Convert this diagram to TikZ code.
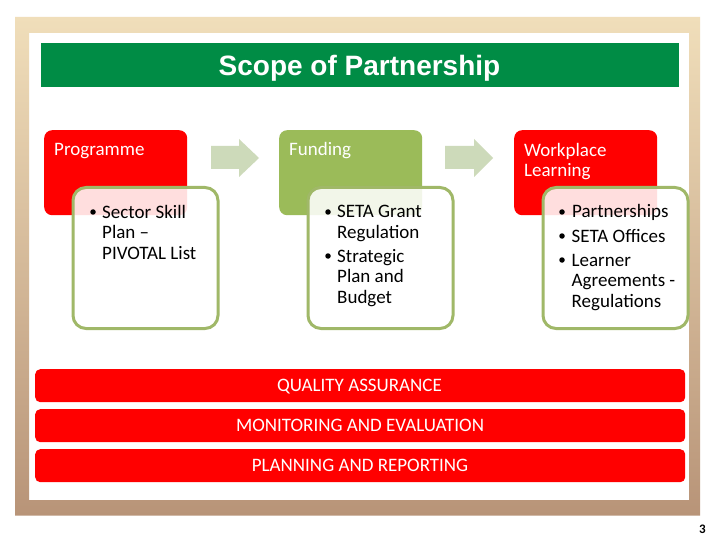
\documentclass[tikz,border=0pt]{standalone}
\usepackage{fontspec}
\setmainfont{Carlito}
\newfontfamily\titlefont{Liberation Sans}
\definecolor{frametop}{RGB}{240,222,186}
\definecolor{framebot}{RGB}{184,148,120}
\definecolor{titlegreen}{RGB}{0,140,69}
\definecolor{olive}{RGB}{155,187,89}
\definecolor{edgeolive}{RGB}{160,184,104}
\definecolor{arrowpale}{RGB}{205,218,186}
\tikzset{
  headbox/.style={fill=#1,draw=none,rounded corners=8pt,anchor=north west,minimum width=143pt,minimum height=85pt,inner sep=0pt},
  detailbox/.style={fill=white,fill opacity=.87,draw=edgeolive,draw opacity=1,line width=3pt,rounded corners=13pt,anchor=north west,minimum width=145pt,minimum height=141pt,inner sep=0pt},
  headtext/.style={text=white,font=\fontsize{19}{20.5}\selectfont,anchor=base west,align=left,inner sep=0pt},
  bodytext/.style={text=black,font=\fontsize{19}{20.5}\selectfont,anchor=base west,align=left,inner sep=0pt},
  bulletmark/.style={circle,fill=black,inner sep=0pt,minimum size=5.5pt},
  bandbox/.style={fill=red,draw=none,rounded corners=5pt,anchor=north west,minimum width=650pt,minimum height=33pt,inner sep=0pt},
  bandtext/.style={text=white,font=\fontsize{19}{20}\selectfont,anchor=base,inner sep=0pt},
  flowarrow/.style={fill=arrowpale,draw=none}
}
\begin{document}
\begin{tikzpicture}[x=1pt,y=-1pt]
\useasboundingbox (0,0) rectangle (720,540);
\fill[white] (0,0) rectangle (720,540);
\shade[top color=frametop,bottom color=framebot,even odd rule]
  (15,17) rectangle (700,515.5) (29,33) rectangle (689,500);
\node[fill=titlegreen,anchor=north west,minimum width=638pt,minimum height=44pt,inner sep=0pt] (titlebar) at (41,43) {};
\node[text=white,font=\titlefont\bfseries\fontsize{28}{30}\selectfont,anchor=base,inner sep=0pt] (title) at (359.5,76) {Scope of Partnership};

\node[headbox=red] (prog) at (44,130) {};
\node[headbox=olive] (fund) at (279,130) {};
\node[headbox=red] (work) at (514,130) {};
\node[headtext] (progt) at (54,156) {Programme};
\node[headtext] (fundt) at (289,156) {Funding};
\node[headtext] (workt) at (524,177) {Workplace\\Learning};

\fill[flowarrow] (211,146) -- (239,146) -- (239,139) -- (259,158) -- (239,177) -- (239,169) -- (211,169) -- cycle;
\fill[flowarrow] (445,146) -- (474,146) -- (474,139) -- (493,158) -- (474,177) -- (474,169) -- (445,169) -- cycle;

\node[detailbox] (d1) at (71.5,186) {};
\node[detailbox] (d2) at (306.5,186) {};
\node[detailbox] (d3) at (541.5,186) {};

\node[bulletmark] (b11) at (93,212) {};
\node[bodytext] (t11) at (102,259) {Sector Skill\\Plan --\\PIVOTAL List};

\node[bulletmark] (b21) at (328,212) {};
\node[bodytext] (t21) at (337,238) {SETA Grant\\Regulation};
\node[bulletmark] (b22) at (328,256) {};
\node[bodytext] (t22) at (337,303) {Strategic\\Plan and\\Budget};

\node[bulletmark] (b31) at (562,212) {};
\node[bodytext] (t31) at (572,218) {Partnerships};
\node[bulletmark] (b32) at (562,236) {};
\node[bodytext] (t32) at (571.5,242) {SETA Offices};
\node[bulletmark] (b33) at (562,260) {};
\node[bodytext] (t33) at (571.5,307) {Learner\\Agreements -\\Regulations};

\node[bandbox] (q) at (35,369) {};
\node[bandbox] (m) at (35,409) {};
\node[bandbox] (p) at (35,449) {};
\node[bandtext] (qt) at (359.5,391) {QUALITY ASSURANCE};
\node[bandtext] (mt) at (360,431) {MONITORING AND EVALUATION};
\node[bandtext] (pt) at (360,471) {PLANNING AND REPORTING};

\node[text=black,font=\bfseries\fontsize{13}{14}\selectfont,anchor=base,inner sep=0pt] (num) at (702.5,533) {3};
\end{tikzpicture}
\end{document}
